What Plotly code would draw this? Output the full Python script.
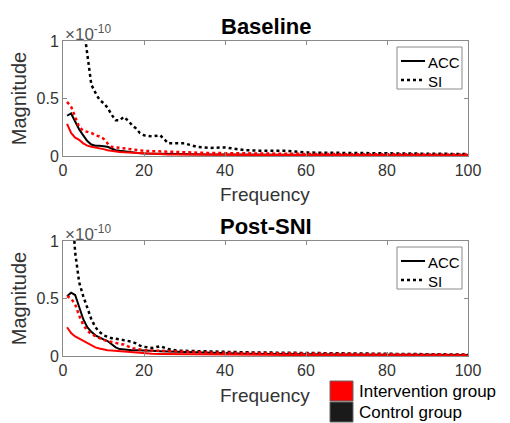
import plotly.graph_objects as go

# Frequency grid (Hz)
freq = [1, 2, 3, 4, 5, 6, 7, 8, 9, 10, 11, 12, 13, 14, 15, 16, 17, 18, 19, 20,
        22, 24, 26, 28, 30, 33, 36, 40, 45, 50, 55, 60, 70, 80, 90, 100]

# Magnitudes in units of 1e-10
base_ctrl_si = [3.0, 2.3, 1.8, 1.4, 1.15, 0.88, 0.62, 0.55, 0.49, 0.46, 0.42, 0.36, 0.31, 0.31, 0.34, 0.31, 0.27, 0.24, 0.2, 0.18,
                0.17, 0.18, 0.11, 0.11, 0.11, 0.08, 0.07, 0.075, 0.05, 0.045, 0.045, 0.03, 0.025, 0.02, 0.02, 0.017]
base_ctrl_acc = [0.35, 0.37, 0.3, 0.23, 0.18, 0.13, 0.1, 0.09, 0.09, 0.085, 0.08, 0.065, 0.05, 0.045, 0.04, 0.035, 0.03, 0.028, 0.025, 0.022,
                 0.02, 0.018, 0.016, 0.015, 0.014, 0.013, 0.012, 0.012, 0.011, 0.01, 0.01, 0.009, 0.008, 0.008, 0.007, 0.007]
base_int_si = [0.47, 0.43, 0.34, 0.25, 0.22, 0.21, 0.2, 0.18, 0.17, 0.15, 0.11, 0.08, 0.075, 0.07, 0.065, 0.06, 0.058, 0.055, 0.05, 0.045,
               0.042, 0.04, 0.035, 0.03, 0.03, 0.028, 0.026, 0.025, 0.022, 0.02, 0.02, 0.018, 0.016, 0.015, 0.014, 0.013]
base_int_acc = [0.28, 0.2, 0.16, 0.14, 0.11, 0.09, 0.08, 0.075, 0.07, 0.06, 0.05, 0.043, 0.04, 0.035, 0.032, 0.03, 0.028, 0.025, 0.022, 0.02,
                0.018, 0.016, 0.014, 0.013, 0.012, 0.011, 0.01, 0.01, 0.009, 0.008, 0.008, 0.007, 0.006, 0.006, 0.005, 0.005]

post_ctrl_si = [2.2, 1.4, 0.9, 0.64, 0.52, 0.42, 0.32, 0.25, 0.21, 0.18, 0.165, 0.155, 0.15, 0.145, 0.14, 0.13, 0.125, 0.11, 0.09, 0.08,
                0.07, 0.085, 0.06, 0.047, 0.045, 0.04, 0.04, 0.035, 0.032, 0.03, 0.028, 0.025, 0.02, 0.018, 0.015, 0.012]
post_ctrl_acc = [0.52, 0.55, 0.53, 0.42, 0.32, 0.25, 0.21, 0.18, 0.16, 0.145, 0.13, 0.1, 0.075, 0.06, 0.055, 0.052, 0.05, 0.05, 0.05, 0.05,
                 0.045, 0.042, 0.04, 0.035, 0.03, 0.028, 0.025, 0.022, 0.02, 0.018, 0.016, 0.014, 0.012, 0.01, 0.01, 0.009]
post_int_si = [0.52, 0.5, 0.45, 0.35, 0.27, 0.22, 0.19, 0.17, 0.155, 0.14, 0.13, 0.12, 0.11, 0.105, 0.1, 0.085, 0.07, 0.062, 0.055, 0.05,
               0.048, 0.045, 0.04, 0.037, 0.035, 0.033, 0.03, 0.028, 0.027, 0.025, 0.023, 0.021, 0.018, 0.015, 0.012, 0.01]
post_int_acc = [0.25, 0.2, 0.17, 0.15, 0.13, 0.11, 0.09, 0.075, 0.065, 0.055, 0.05, 0.047, 0.044, 0.04, 0.036, 0.034, 0.03, 0.028, 0.025, 0.023,
                0.02, 0.018, 0.017, 0.016, 0.015, 0.014, 0.013, 0.012, 0.011, 0.01, 0.009, 0.008, 0.007, 0.006, 0.005, 0.005]

x_ticks = [0, 20, 40, 60, 80, 100]
y_ticks = [0, 0.5, 1]
y_tick_labels = ["0", "0.5", "1"]

titles = ["Baseline", "Post-SNI"]
line_names = ["ACC", "SI"]
group_names = ["Intervention group", "Control group"]
RED = "#ff0000"
BLACK = "#000000"
DOT = "3px,3px"
FONT = "Arial, Liberation Sans, sans-serif"
GREY = "#333333"
AXC = "#8a8a8a"

# page body has an 8px margin; figure is sized so it fills the 510x423 window
OFF = 8
W, H = 510 - OFF, 423 - OFF
def px_x(p): return (p - OFF) / W
def px_y(p): return 1 - (p - OFF) / H

fig = go.Figure()

panels = [
    dict(xa="x", ya="y", data=(base_ctrl_acc, base_ctrl_si, base_int_acc, base_int_si)),
    dict(xa="x2", ya="y2", data=(post_ctrl_acc, post_ctrl_si, post_int_acc, post_int_si)),
]
for p in panels:
    c_acc, c_si, i_acc, i_si = p["data"]
    fig.add_trace(go.Scatter(x=freq, y=c_acc, mode="lines", name="ACC (control)", xaxis=p["xa"], yaxis=p["ya"],
                             line=dict(color=BLACK, width=2)))
    fig.add_trace(go.Scatter(x=freq, y=c_si, mode="lines", name="SI (control)", xaxis=p["xa"], yaxis=p["ya"],
                             line=dict(color=BLACK, width=2.5, dash=DOT)))
    fig.add_trace(go.Scatter(x=freq, y=i_acc, mode="lines", name="ACC (intervention)", xaxis=p["xa"], yaxis=p["ya"],
                             line=dict(color=RED, width=2)))
    fig.add_trace(go.Scatter(x=freq, y=i_si, mode="lines", name="SI (intervention)", xaxis=p["xa"], yaxis=p["ya"],
                             line=dict(color=RED, width=2.5, dash=DOT)))

xdom = [px_x(63), px_x(468)]
axis_common = dict(showline=True, linecolor=AXC, linewidth=1, mirror="ticks", automargin=False,
                   ticks="inside", ticklen=4, tickcolor=AXC, showgrid=False, zeroline=False,
                   tickfont=dict(family=FONT, size=16, color=GREY))
xa = dict(axis_common, range=[0, 100], tickvals=x_ticks, domain=xdom)
ya = dict(axis_common, range=[0, 1], tickvals=y_ticks, ticktext=y_tick_labels,
          title=dict(text="Magnitude", font=dict(family=FONT, size=20, color=GREY), standoff=6))

fig.update_layout(
    width=W, height=H, margin=dict(l=0, r=0, t=0, b=0),
    plot_bgcolor="white", paper_bgcolor="white", showlegend=False,
    xaxis=dict(xa, anchor="y"),
    yaxis=dict(ya, domain=[px_y(156), px_y(41)], anchor="x"),
    xaxis2=dict(xa, anchor="y2"),
    yaxis2=dict(ya, domain=[px_y(356), px_y(241)], anchor="x2"),
)

ann = []
shapes = []
for i, (ttl, top, bot) in enumerate(zip(titles, [41, 241], [156, 356])):
    ann.append(dict(text="<b>%s</b>" % ttl, x=px_x(266), y=px_y(top - 15), xref="paper", yref="paper",
                    showarrow=False, font=dict(family=FONT, size=22, color=BLACK), xanchor="center", yanchor="middle"))
    ann.append(dict(text="×10<sup>-10</sup>", x=px_x(63), y=px_y(top - 8), xref="paper", yref="paper",
                    showarrow=False, font=dict(family=FONT, size=17, color="#555555"), xanchor="left", yanchor="middle"))
    ann.append(dict(text="Frequency", x=px_x(265), y=px_y(bot + 39), xref="paper", yref="paper",
                    showarrow=False, font=dict(family=FONT, size=19, color=GREY), xanchor="center", yanchor="middle"))
    # in-axes legend (ACC / SI)
    t = top + 6
    shapes.append(dict(type="rect", xref="paper", yref="paper", x0=px_x(397), x1=px_x(462),
                       y0=px_y(t + 42), y1=px_y(t), fillcolor="white", line=dict(color=AXC, width=1)))
    for k, (nm, dash, dy) in enumerate(zip(line_names, ["solid", DOT], [14, 33])):
        shapes.append(dict(type="line", xref="paper", yref="paper", x0=px_x(401), x1=px_x(425),
                           y0=px_y(t + dy), y1=px_y(t + dy),
                           line=dict(color=BLACK, width=2 if k == 0 else 2.5, dash=dash)))
        ann.append(dict(text=nm, x=px_x(426), y=px_y(t + dy + 1), xref="paper", yref="paper", showarrow=False,
                        font=dict(family=FONT, size=15, color=BLACK), xanchor="left", yanchor="middle"))

# group legend
for j, (name, col, yc) in enumerate(zip(group_names, [RED, "#1a1a1a"], [391, 412])):
    shapes.append(dict(type="rect", xref="paper", yref="paper", x0=px_x(330), x1=px_x(353),
                       y0=px_y(yc - 10), y1=px_y(yc + 10), fillcolor=col, line=dict(color="#666666", width=1)))
    ann.append(dict(text=name, x=px_x(357), y=px_y(yc), xref="paper", yref="paper", showarrow=False,
                    font=dict(family=FONT, size=17, color=BLACK), xanchor="left", yanchor="middle"))

fig.update_layout(annotations=ann, shapes=shapes)
fig.write_html("out.html")
